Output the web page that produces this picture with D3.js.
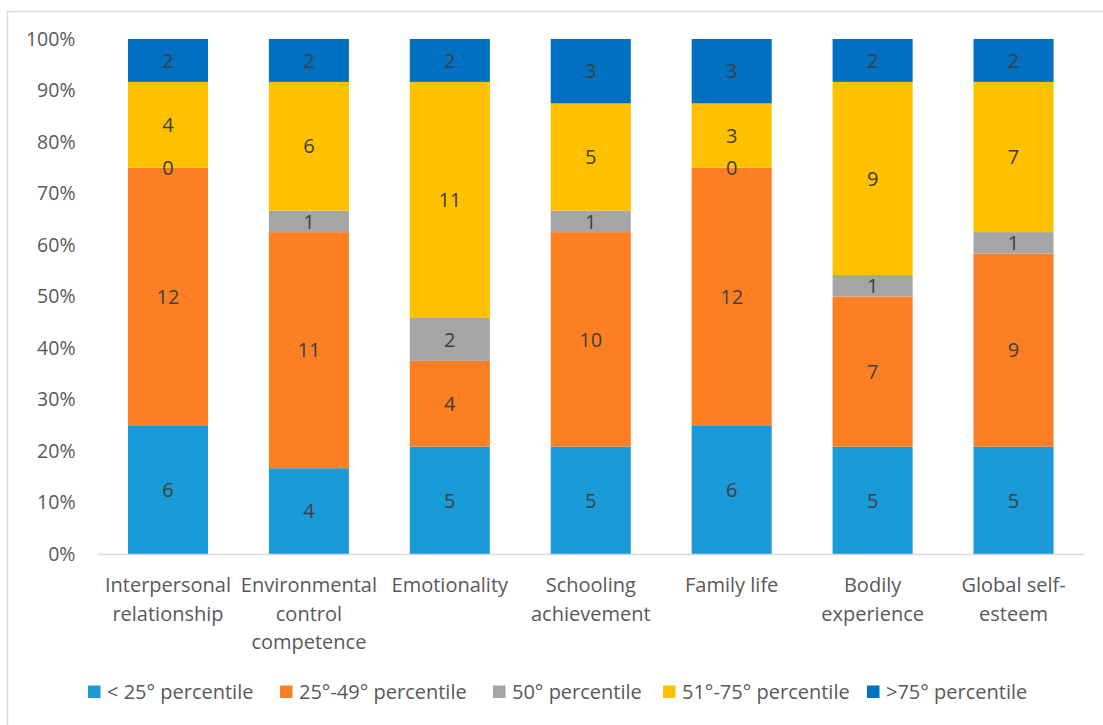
<!DOCTYPE html>
<html lang="en">
<head>
<meta charset="UTF-8">
<title>Self-esteem percentiles</title>
<style>
  body { margin: 0; background: #fff; }
  svg { display: block; font-family: 'Open Sans', 'Liberation Sans', sans-serif; }
</style>
</head>
<body>
<svg id="chart" width="1103" height="725"></svg>
<script src="https://d3js.org/d3.v7.min.js"></script>
<script>
// categories and series counts (each bar sums to 24)
const categories = [
  ["Interpersonal", "relationship"],
  ["Environmental", "control", "competence"],
  ["Emotionality"],
  ["Schooling", "achievement"],
  ["Family life"],
  ["Bodily", "experience"],
  ["Global self-", "esteem"]
];
const seriesNames = ["< 25° percentile", "25°-49° percentile", "50° percentile", "51°-75° percentile", ">75° percentile"];
const seriesColors = ["#1a9ad6", "#fd7f23", "#a5a5a5", "#ffc000", "#0070c0"];
const below25 = [6, 4, 5, 5, 6, 5, 5];
const p25to49 = [12, 11, 4, 10, 12, 7, 9];
const p50 = [0, 1, 2, 1, 0, 1, 1];
const p51to75 = [4, 6, 11, 5, 3, 9, 7];
const above75 = [2, 2, 2, 3, 3, 2, 2];
const yTicks = [0, 0.1, 0.2, 0.3, 0.4, 0.5, 0.6, 0.7, 0.8, 0.9, 1];

const series = [below25, p25to49, p50, p51to75, above75];
const rows = categories.map((c, i) => {
  const r = { key: i };
  series.forEach((s, j) => r[j] = s[i]);
  return r;
});
const stacked = d3.stack().keys(d3.range(series.length)).offset(d3.stackOffsetExpand)(rows);

const svg = d3.select("#chart");
const plotLeft = 97.5, plotRight = 1084, plotTop = 39, plotBottom = 554;

// outer frame (left and top edges visible)
svg.append("path")
  .attr("d", "M7.5,725 V11.5 H1103")
  .attr("fill", "none").attr("stroke", "#d9d9d9").attr("stroke-width", 1.5);

const x = d3.scaleBand().domain(d3.range(categories.length)).range([plotLeft, plotRight]).paddingInner(0.432).paddingOuter(0.216);
const y = d3.scaleLinear().domain([0, 1]).range([plotBottom, plotTop]);

// y axis labels
const yAxis = svg.append("g")
  .attr("transform", `translate(${plotLeft},0)`)
  .call(d3.axisLeft(y).tickValues(yTicks).tickFormat(d3.format(".0%")).tickSize(0).tickPadding(22));
yAxis.select(".domain").remove();
yAxis.selectAll("text").attr("font-size", 19.5).attr("fill", "#595959")
  .attr("font-family", "'Open Sans', 'Liberation Sans', sans-serif");

// bars
const layers = svg.append("g").selectAll("g")
  .data(stacked).join("g")
  .attr("fill", (d, i) => seriesColors[i]);

layers.selectAll("rect")
  .data(d => d).join("rect")
  .attr("x", (d, i) => x(i))
  .attr("width", x.bandwidth())
  .attr("y", d => y(d[1]))
  .attr("height", d => y(d[0]) - y(d[1]));

// value labels, drawn above all bars so zero labels stay visible
const labelGroup = svg.append("g");
stacked.forEach((layer, si) => {
  labelGroup.append("g").selectAll("text")
    .data(layer).join("text")
    .attr("x", (d, i) => x(i) + x.bandwidth() / 2)
    .attr("y", d => (y(d[0]) + y(d[1])) / 2)
    .attr("dy", "0.36em")
    .attr("text-anchor", "middle")
    .attr("font-size", 20)
    .attr("fill", "#404040")
    .text((d, i) => series[si][i]);
});

// x axis baseline
svg.append("line")
  .attr("x1", plotLeft).attr("x2", plotRight)
  .attr("y1", plotBottom + 0.5).attr("y2", plotBottom + 0.5)
  .attr("stroke", "#d9d9d9").attr("stroke-width", 1.5);

// category labels
svg.append("g").selectAll("text")
  .data(categories).join("text")
  .attr("text-anchor", "middle")
  .attr("font-size", 20)
  .attr("fill", "#595959")
  .attr("transform", (d, i) => `translate(${x(i) + x.bandwidth() / 2},${plotBottom + 38})`)
  .selectAll("tspan")
  .data(d => d).join("tspan")
  .attr("x", 0)
  .attr("y", (d, k) => k * 28.5)
  .text(d => d);

// legend
const legendX = [88, 280, 493, 663, 867];
const legend = svg.append("g").selectAll("g")
  .data(seriesNames).join("g")
  .attr("transform", (d, i) => `translate(${legendX[i]},692)`);
legend.append("rect")
  .attr("x", 0).attr("y", -6.5).attr("width", 12.5).attr("height", 12.5)
  .attr("fill", (d, i) => seriesColors[i]);
legend.append("text")
  .attr("x", 19).attr("dy", "0.36em")
  .attr("font-size", 20).attr("fill", "#595959")
  .text(d => d);
</script>
</body>
</html>
